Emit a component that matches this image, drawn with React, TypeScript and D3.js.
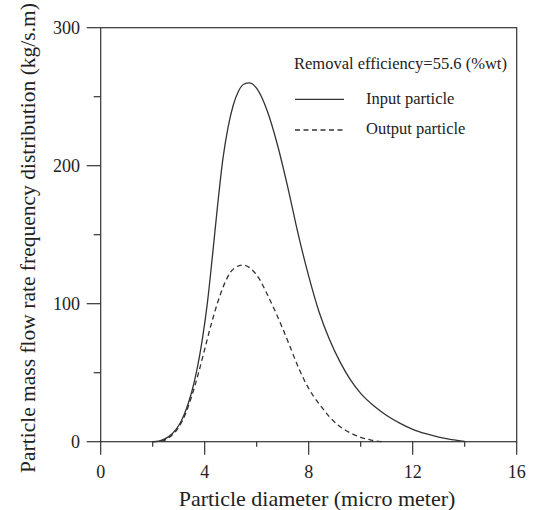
import React from "react";
import * as d3 from "d3";

const inputX = [2.0, 2.3, 2.6, 2.9, 3.1, 3.3, 3.5, 3.7, 3.9, 4.1, 4.3, 4.5, 4.7, 4.9, 5.1, 5.3, 5.5, 5.72, 6.0, 6.4, 6.8, 7.2, 7.6, 8.0, 8.4, 8.8, 9.2, 9.6, 10.0, 10.5, 11.0, 11.5, 12.0, 12.5, 13.0, 13.5, 14.0];
const inputY = [0, 0.8, 3.5, 9, 15, 24, 36, 52, 73, 100, 135, 172, 205, 228, 244, 254, 259, 260, 256, 240, 215, 184, 150, 120, 94, 74, 58, 45, 35, 26, 19, 13.5, 9, 5.8, 3.3, 1.5, 0.3];

const outputX = [2.0, 2.4, 2.7, 3.0, 3.3, 3.5, 3.75, 4.0, 4.25, 4.5, 4.75, 5.0, 5.2, 5.45, 5.8, 6.1, 6.4, 6.7, 7.0, 7.3, 7.6, 7.9, 8.2, 8.5, 8.8, 9.1, 9.4, 9.7, 10.0, 10.4, 10.8];
const outputY = [0, 0.8, 4, 10.5, 22, 33, 49, 67, 85, 101, 114, 123, 126.5, 128, 125, 118, 107, 95, 82, 68, 54, 42, 32.5, 25, 18, 12.5, 8.5, 5.5, 3.2, 1.2, 0];

const xMajor = [0, 4, 8, 12, 16];
const xMinor = [2, 6, 10, 14];
const yMajor = [0, 100, 200, 300];
const yMinor = [50, 150, 250];

const legendTitle = "Removal efficiency=55.6 (%wt)";
const seriesNames = ["Input particle", "Output particle"];
const xTitle = "Particle diameter (micro meter)";
const yTitle = "Particle mass flow rate frequency distribution (kg/s.m)";

export default function App() {
  const W = 536, H = 510;
  const L = 100.7, R = 516.7, T = 27.7, B = 441.7;
  const x = d3.scaleLinear().domain([0, 16]).range([L, R]);
  const y = d3.scaleLinear().domain([0, 300]).range([B, T]);
  const line = d3.line<[number, number]>().x(d => x(d[0])).y(d => y(d[1])).curve(d3.curveMonotoneX);
  const inPts = inputX.map((v, i) => [v, inputY[i]] as [number, number]);
  const outPts = outputX.map((v, i) => [v, outputY[i]] as [number, number]);
  const col = "#333";
  const font = "'Liberation Serif', 'Times New Roman', serif";
  return (
    <svg width={W} height={H} style={{ position: "absolute", left: 0, top: 0, background: "#fff" }} fontFamily={font}>
      <rect x={0} y={0} width={W} height={H} fill="#fff" />
      <rect x={L} y={T} width={R - L} height={B - T} fill="none" stroke={col} strokeWidth={1.2} />
      {xMajor.map(v => <line key={"xM" + v} x1={x(v)} x2={x(v)} y1={B} y2={B + 13} stroke={col} strokeWidth={1.2} />)}
      {xMinor.map(v => <line key={"xm" + v} x1={x(v)} x2={x(v)} y1={B} y2={B + 5} stroke={col} strokeWidth={1.2} />)}
      {yMajor.map(v => <line key={"yM" + v} x1={L - 14} x2={L} y1={y(v)} y2={y(v)} stroke={col} strokeWidth={1.2} />)}
      {yMinor.map(v => <line key={"ym" + v} x1={L - 7} x2={L} y1={y(v)} y2={y(v)} stroke={col} strokeWidth={1.2} />)}
      {xMajor.map(v => <text key={"xt" + v} x={x(v)} y={478} textAnchor="middle" fontSize={18} fill="#222">{v}</text>)}
      {yMajor.map(v => <text key={"yt" + v} x={80} y={y(v) + 6} textAnchor="end" fontSize={18} fill="#222">{v}</text>)}
      <text x={317} y={506} textAnchor="middle" fontSize={22} fill="#222">{xTitle}</text>
      <text transform={`translate(35,${238}) rotate(-90)`} textAnchor="middle" fontSize={21.5} fill="#222">{yTitle}</text>
      <path d={line(inPts) || ""} fill="none" stroke={col} strokeWidth={1.3} />
      <path d={line(outPts) || ""} fill="none" stroke={col} strokeWidth={1.3} strokeDasharray="5,3.5" />
      <text x={294} y={69.3} fontSize={16.5} fill="#222">{legendTitle}</text>
      <line x1={295} x2={344} y1={99.3} y2={99.3} stroke={col} strokeWidth={1.3} />
      <text x={366} y={104} fontSize={16.5} fill="#222">{seriesNames[0]}</text>
      <line x1={295} x2={344} y1={130} y2={130} stroke={col} strokeWidth={1.3} strokeDasharray="5,3.5" />
      <text x={366} y={134.3} fontSize={16.5} fill="#222">{seriesNames[1]}</text>
    </svg>
  );
}
